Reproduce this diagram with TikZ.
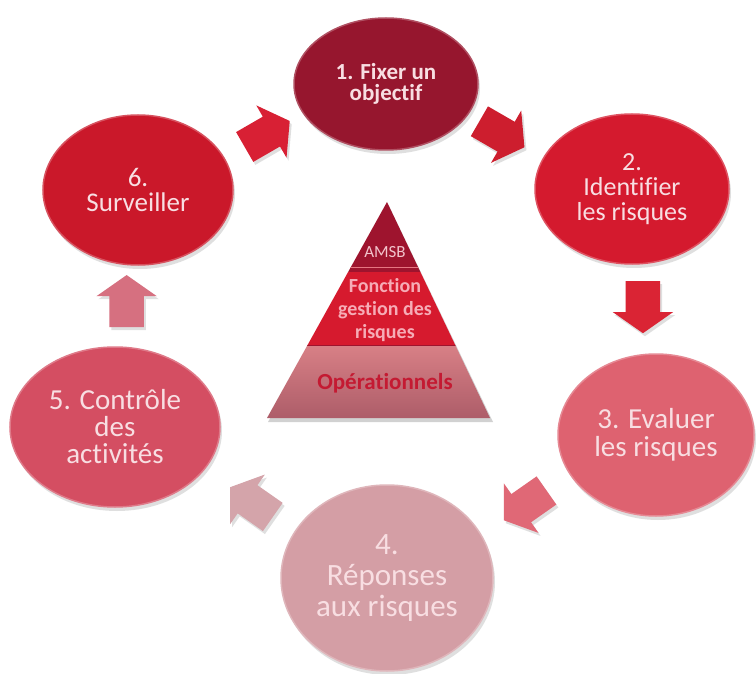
\documentclass[tikz,border=0pt]{standalone}
\usepackage{fontspec}
\setmainfont{Carlito}[Ligatures=NoCommon]
\usetikzlibrary{shapes.geometric,shapes.arrows,shadows,calc}

\definecolor{stepone}{RGB}{150,22,46}
\definecolor{steptwo}{RGB}{212,26,46}
\definecolor{stepthree}{RGB}{222,98,112}
\definecolor{stepfour}{RGB}{212,158,165}
\definecolor{stepfive}{RGB}{212,78,98}
\definecolor{stepsix}{RGB}{202,24,42}
\definecolor{arrowone}{RGB}{205,30,46}
\definecolor{arrowtwo}{RGB}{218,36,52}
\definecolor{arrowthree}{RGB}{224,104,118}
\definecolor{arrowfour}{RGB}{212,164,170}
\definecolor{arrowfive}{RGB}{214,112,128}
\definecolor{arrowsix}{RGB}{216,32,52}
\definecolor{disctext}{RGB}{248,222,226}
\definecolor{amsbred}{RGB}{158,20,46}
\definecolor{fonctionred}{RGB}{214,26,46}
\definecolor{opertop}{RGB}{216,128,134}
\definecolor{operbottom}{RGB}{172,92,104}
\definecolor{amsbtext}{RGB}{242,196,204}
\definecolor{fonctiontext}{RGB}{246,172,182}
\definecolor{opertext}{RGB}{196,26,50}

\begin{document}
\begin{tikzpicture}[x=1pt,y=-1pt,
    disc/.style={ellipse, inner sep=0pt, align=center, fill=#1, draw=#1!75!white,
        line width=1.5pt, text=disctext,
        drop shadow={opacity=0.25, shadow xshift=2pt, shadow yshift=-4pt}},
    blockarrow/.style={single arrow, inner xsep=0pt, inner ysep=17pt, minimum height=52pt,
        minimum width=60pt, single arrow head extend=13pt,
        single arrow tip angle=110,
        drop shadow={opacity=0.25, shadow xshift=2pt, shadow yshift=-3pt}},
    pyrtext/.style={align=center, inner sep=0pt}]
    \useasboundingbox[fill=white] (0,0) rectangle (756,674);

    % the six steps
    \node[disc=stepone, minimum width=184pt, minimum height=132pt,
        font=\bfseries\fontsize{23}{21}\selectfont] (objectif) at (386,84) {1. Fixer un\\objectif};
    \node[disc=steptwo, minimum width=194pt, minimum height=150pt,
        font=\fontsize{26}{25}\selectfont] (identifier) at (632,189) {2.\\Identifier\\les risques};
    \node[disc=stepthree, minimum width=196pt, minimum height=162pt,
        font=\fontsize{29}{28}\selectfont] (evaluer) at (656,435) {3. Evaluer\\les risques};
    \node[disc=stepfour, minimum width=212pt, minimum height=186pt,
        font=\fontsize{31}{31}\selectfont] (reponses) at (387,578) {4.\\Réponses\\aux risques};
    \node[disc=stepfive, minimum width=210pt, minimum height=160pt,
        font=\fontsize{29}{27}\selectfont] (controle) at (115,427) {5. Contrôle\\des\\activités};
    \node[disc=stepsix, minimum width=190pt, minimum height=150pt,
        font=\fontsize{27}{25}\selectfont] (surveiller) at (138,190) {6.\\Surveiller};

    % block arrows between the steps
    \foreach \from/\to/\pos/\ang/\col in {surveiller/objectif/0.5/30/arrowsix,
        objectif/identifier/0.45/-30/arrowone, identifier/evaluer/0.456/-90/arrowtwo,
        evaluer/reponses/0.468/-145/arrowthree, reponses/controle/0.48/145/arrowfour,
        controle/surveiller/0.506/90/arrowfive}
        \node[blockarrow, fill=\col, rotate=\ang] (\from-\to) at ($(\from)!\pos!(\to)$) {};

    % pyramid
    \coordinate (apex) at (387,202);
    \coordinate (baseleft) at (267,418);
    \coordinate (baseright) at (490,418);
    \fill[black!18] ($(apex)+(2,4)$) -- ($(baseright)+(3,4)$) -- ($(baseleft)+(1,4)$) -- cycle;
    \begin{scope}
        \clip (apex) -- (baseright) -- (baseleft) -- cycle;
        \fill[amsbred] (250,195) rectangle (510,272);
        \fill[fonctionred] (250,272) rectangle (510,345);
        \shade[top color=opertop, bottom color=operbottom] (250,345) rectangle (510,420);
        \draw[fonctionred!60!white, line width=0.8pt] (250,267) -- (510,267);
        \draw[amsbred, line width=0.8pt] (250,345) -- (510,345);
    \end{scope}
    \node[pyrtext, text=amsbtext, font=\fontsize{17}{17}\selectfont] (amsb) at (385,252) {AMSB};
    \node[pyrtext, text=fonctiontext, font=\bfseries\fontsize{20}{23}\selectfont] (fonction)
        at (385,310) {Fonction\\gestion des\\risques};
    \node[pyrtext, text=opertext, font=\bfseries\fontsize{23}{23}\selectfont] (oper)
        at (385,383) {Opérationnels};
\end{tikzpicture}
\end{document}
